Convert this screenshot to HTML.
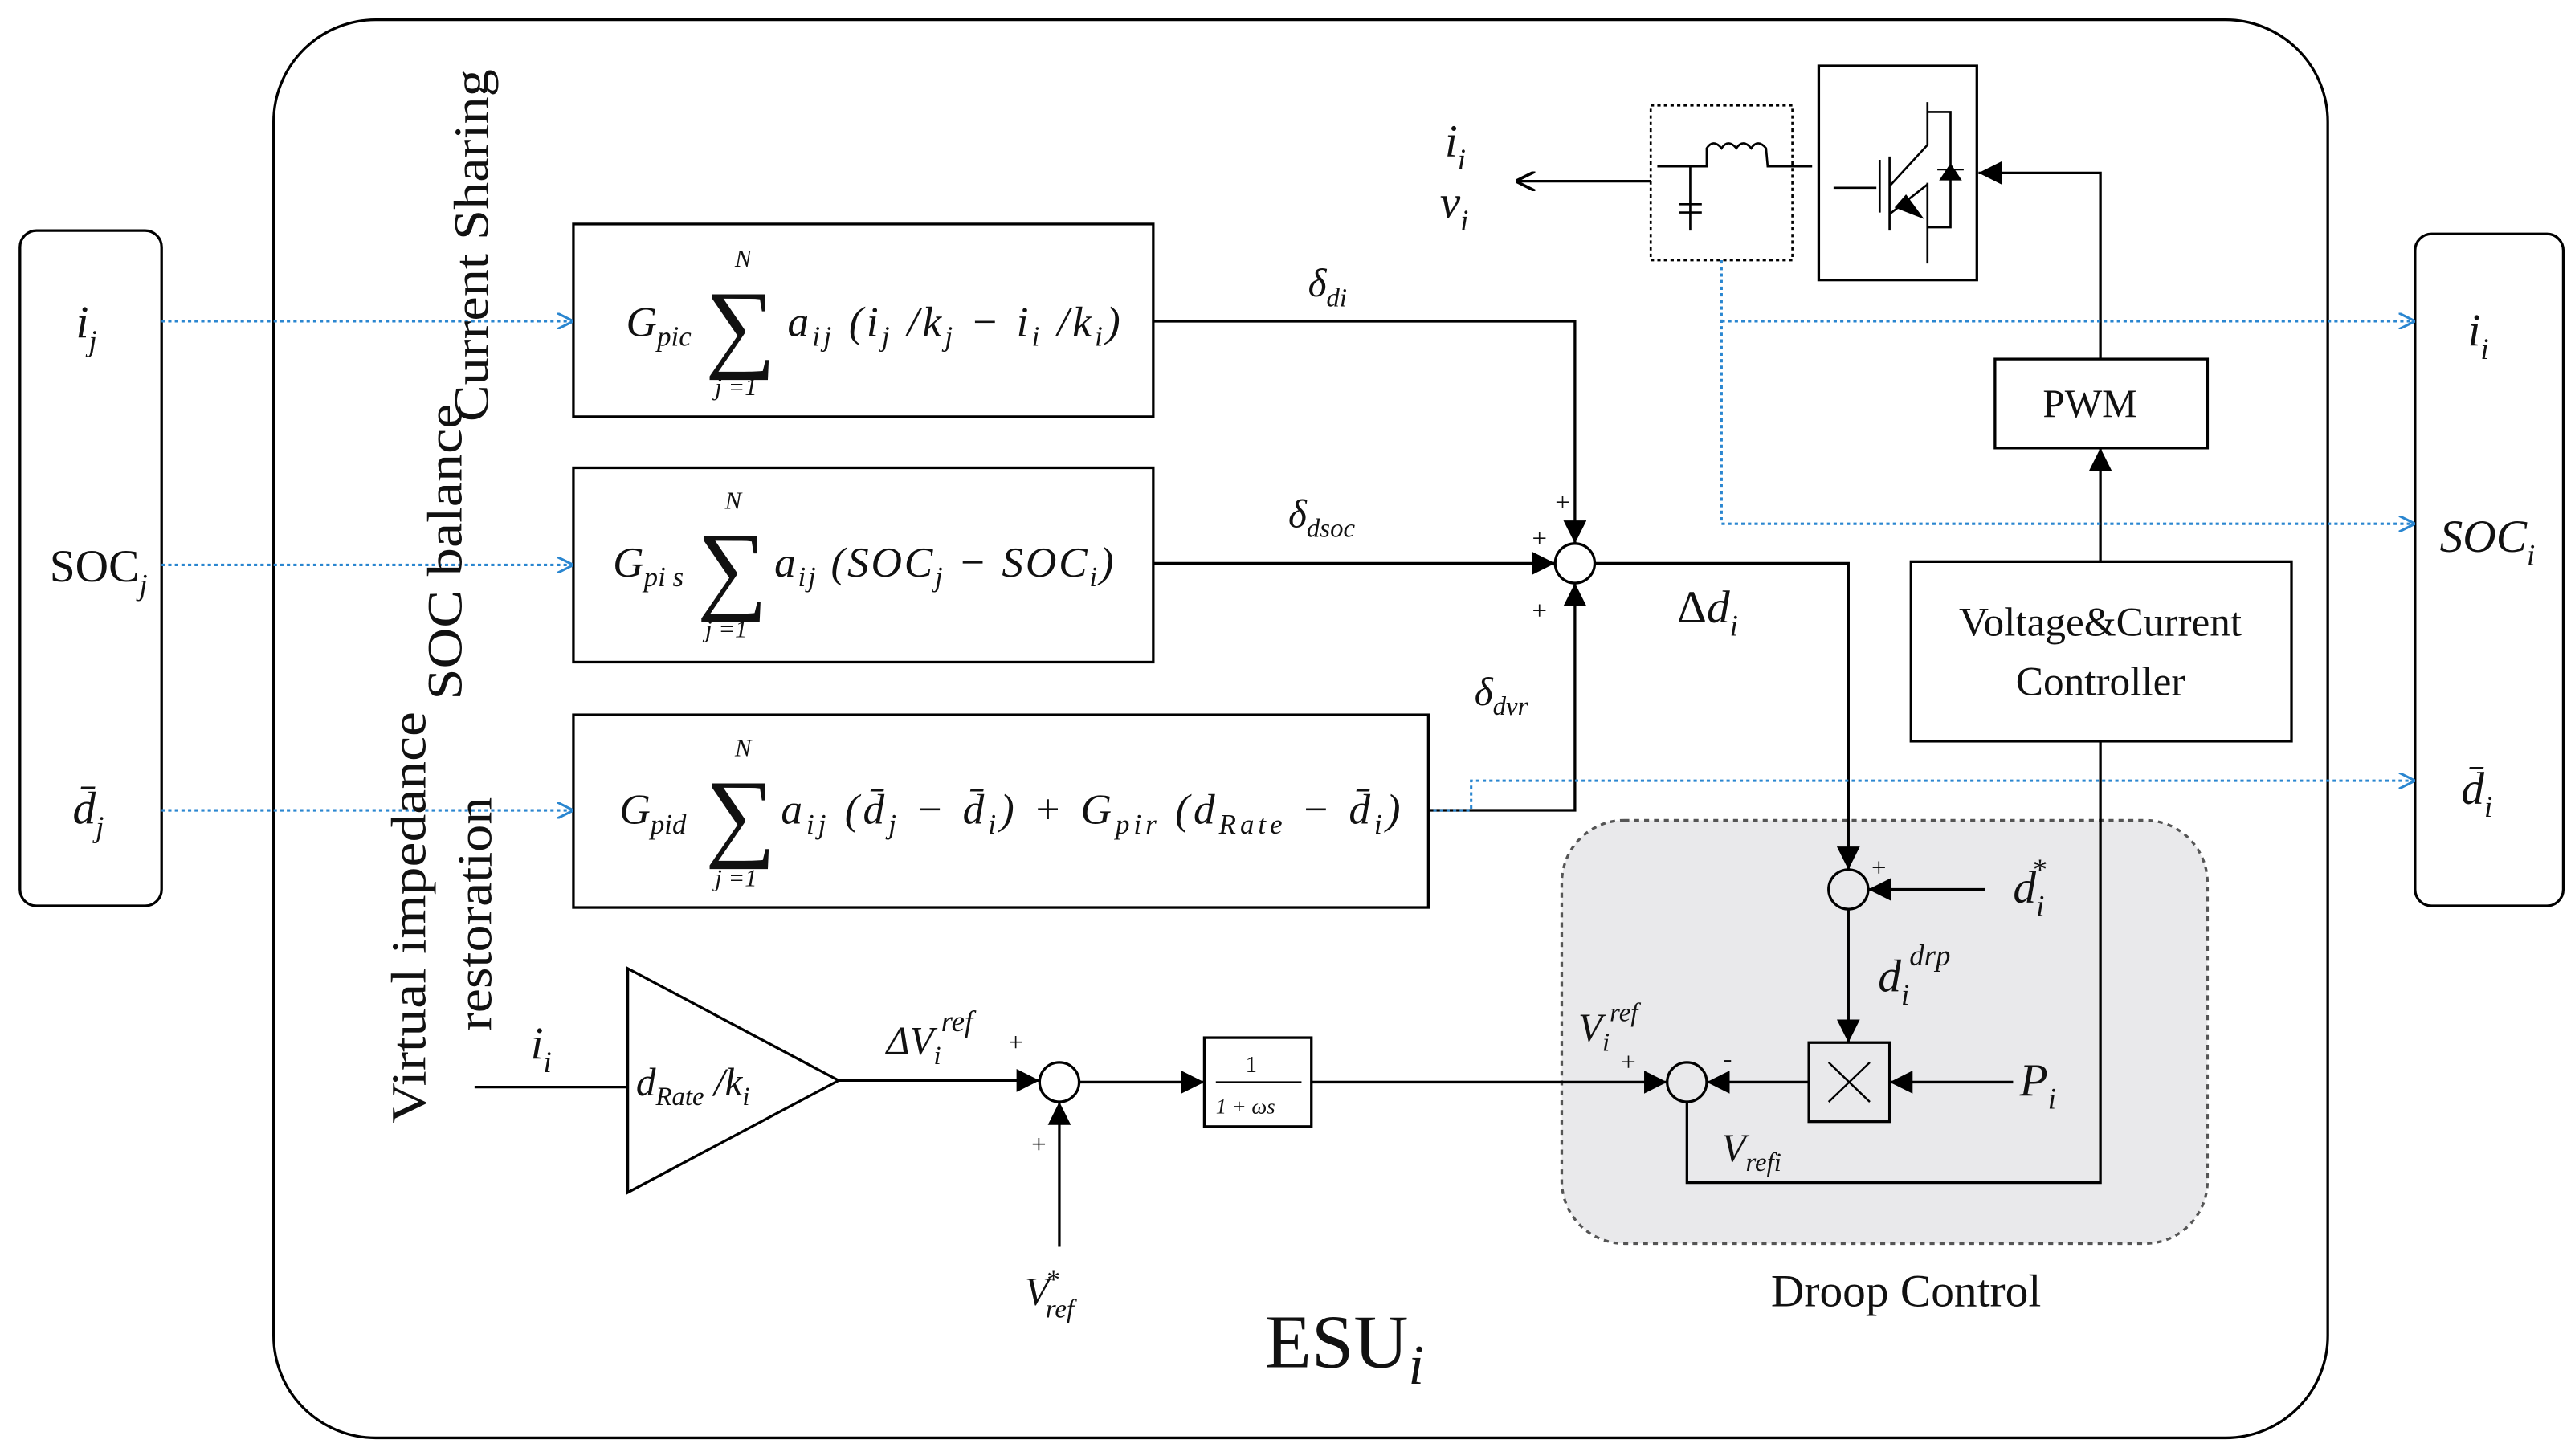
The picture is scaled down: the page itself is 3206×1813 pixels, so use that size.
<!DOCTYPE html>
<html><head><meta charset="utf-8"><style>
html,body{margin:0;padding:0;background:#fff;}
svg{display:block;}
text{font-family:"Liberation Serif",serif;fill:#111;}
.it{font-style:italic;}
</style></head><body>
<svg width="3206" height="1813" viewBox="0 0 1563 884" xmlns="http://www.w3.org/2000/svg">
<defs>
<marker id="a" viewBox="0 0 10 10" refX="10" refY="5" markerWidth="14" markerHeight="14" markerUnits="userSpaceOnUse" orient="auto"><path d="M0,0 L10,5 L0,10 Z" fill="#000"/></marker>
<marker id="o" viewBox="0 0 10 10" refX="10" refY="5" markerWidth="12" markerHeight="12" markerUnits="userSpaceOnUse" orient="auto"><path d="M0,0 L10,5 L0,10" fill="none" stroke="#000" stroke-width="1.5"/></marker>
<marker id="b" viewBox="0 0 10 10" refX="10" refY="5" markerWidth="10" markerHeight="10" markerUnits="userSpaceOnUse" orient="auto"><path d="M0,0 L10,5 L0,10" fill="none" stroke="#2a86d0" stroke-width="1.5"/></marker>
</defs>
<g fill="none" stroke="#000" stroke-width="1.6">
<rect x="166" y="12" width="1247" height="861" rx="62"/>
<rect x="12" y="140" width="86" height="410" rx="10"/>
<rect x="1466" y="142" width="90" height="408" rx="10"/>
<rect x="948" y="498" width="392" height="257" rx="38" fill="#e9e9eb" stroke="#555" stroke-dasharray="3,3"/>
<rect x="348" y="136" width="352" height="117"/>
<rect x="348" y="284" width="352" height="118"/>
<rect x="348" y="434" width="519" height="117"/>
<rect x="1160" y="341" width="231" height="109"/>
<rect x="1211" y="218" width="129" height="54"/>
<rect x="731" y="630" width="65" height="54"/>
<rect x="1098" y="633" width="49" height="48"/>
<path d="M1110,645 L1135,669 M1135,645 L1110,669" stroke-width="1.2"/>
<path d="M381,588 L381,724 L509,656 Z"/>
<circle cx="956" cy="342" r="12"/>
<circle cx="1122" cy="540" r="12"/>
<circle cx="1024" cy="657" r="12"/>
<circle cx="643" cy="657" r="12"/>
<path d="M700,195 L956,195 L956,330" marker-end="url(#a)"/>
<path d="M700,342 L944,342" marker-end="url(#a)"/>
<path d="M867,492 L956,492 L956,354" marker-end="url(#a)"/>
<path d="M968,342 L1122,342 L1122,528" marker-end="url(#a)"/>
<path d="M1205,540 L1134,540" marker-end="url(#a)"/>
<path d="M1122,552 L1122,633" marker-end="url(#a)"/>
<path d="M1222,657 L1147,657" marker-end="url(#a)"/>
<path d="M1098,657 L1036,657" marker-end="url(#a)"/>
<path d="M796,657 L1012,657" marker-end="url(#a)"/>
<path d="M655,657 L731,657" marker-end="url(#a)"/>
<path d="M509,656 L631,656" marker-end="url(#a)"/>
<path d="M643,757 L643,669" marker-end="url(#a)"/>
<path d="M288,660 L381,660"/>
<path d="M1024,669 L1024,718 L1275,718 L1275,450"/>
<path d="M1275,341 L1275,272" marker-end="url(#a)"/>
<path d="M1275,218 L1275,105 L1201,105" marker-end="url(#a)"/>
<path d="M1002,110 L920,110" marker-end="url(#o)"/>
<rect x="1002" y="64" width="86" height="94" stroke-dasharray="2,2" stroke-width="1.3"/>
<path d="M1006,101 L1036,101 L1036,90 q4,-6 9,0 q4,-6 9,0 q4,-6 9,0 q4,-6 9,0 L1073,101 L1100,101" stroke-width="1.3"/>
<path d="M1026,101 L1026,140 M1019,124 L1033,124 M1019,129 L1033,129" stroke-width="1.3"/>
<rect x="1104" y="40" width="96" height="130"/>
<path d="M1113,114 L1139,114 M1141,97 L1141,129 M1147,95 L1147,140 M1147,113 L1170,88 L1170,62 M1170,111 L1170,160 M1170,112 L1147,130 M1170,68 L1184,68 L1184,138 L1170,138" stroke-width="1.3"/>
<path d="M1176,103 L1192,103 M1178,109 L1190,109 L1184,100 Z" fill="#000" stroke-width="1"/>
<path d="M1157,118 L1168,133 L1150,126 Z" fill="#000" stroke="none"/>
</g>
<g fill="none" stroke="#2a86d0" stroke-width="1.5" stroke-dasharray="2,2">
<path d="M98,195 L348,195" marker-end="url(#b)"/>
<path d="M98,343 L348,343" marker-end="url(#b)"/>
<path d="M98,492 L348,492" marker-end="url(#b)"/>
<path d="M1045,158 L1045,318 L1466,318" marker-end="url(#b)"/>
<path d="M1045,195 L1466,195" marker-end="url(#b)"/>
<path d="M870,492 L893,492 L893,474 L1466,474" marker-end="url(#b)"/>
</g>
<g font-size="28">
<text x="46" y="205" class="it">i<tspan font-size="18" dy="8">j</tspan></text>
<text x="30" y="353">SOC<tspan font-size="18" dy="8" class="it">j</tspan></text>
<text x="44" y="500" class="it">d̄<tspan font-size="18" dy="8">j</tspan></text>
<text x="1498" y="210" class="it">i<tspan font-size="18" dy="8">i</tspan></text>
<text x="1481" y="335" class="it">SOC<tspan font-size="18" dy="8">i</tspan></text>
<text x="1494" y="488" class="it">d̄<tspan font-size="18" dy="8">i</tspan></text>
</g>
<g font-size="30">
<text transform="translate(296,256) rotate(-90)" textLength="214" lengthAdjust="spacingAndGlyphs">Current Sharing</text>
<text transform="translate(280,425) rotate(-90)" textLength="180" lengthAdjust="spacingAndGlyphs">SOC balance</text>
<text transform="translate(258,682) rotate(-90)" textLength="250" lengthAdjust="spacingAndGlyphs">Virtual impedance</text>
<text transform="translate(298,626) rotate(-90)" textLength="142" lengthAdjust="spacingAndGlyphs">restoration</text>
</g>
<g font-size="26" class="it">
<text x="380" y="204">G<tspan font-size="17" dy="6">pic</tspan></text>
<text x="428" y="218" font-size="60" font-style="normal">∑</text>
<text x="446" y="162" font-size="15">N</text>
<text x="434" y="240" font-size="15">j =1</text>
<text x="478" y="204" textLength="202" lengthAdjust="spacing">a<tspan font-size="17" dy="6">ij</tspan><tspan dy="-6"> (i</tspan><tspan font-size="17" dy="6">j</tspan><tspan dy="-6"> /k</tspan><tspan font-size="17" dy="6">j</tspan><tspan dy="-6"> − i</tspan><tspan font-size="17" dy="6">i</tspan><tspan dy="-6"> /k</tspan><tspan font-size="17" dy="6">i</tspan><tspan dy="-6">)</tspan></text>
<text x="372" y="350">G<tspan font-size="17" dy="6">pi s</tspan></text>
<text x="423" y="365" font-size="60" font-style="normal">∑</text>
<text x="440" y="309" font-size="15">N</text>
<text x="428" y="387" font-size="15">j =1</text>
<text x="470" y="350" textLength="206" lengthAdjust="spacing">a<tspan font-size="17" dy="6">ij</tspan><tspan dy="-6"> (SOC</tspan><tspan font-size="17" dy="6">j</tspan><tspan dy="-6"> − SOC</tspan><tspan font-size="17" dy="6">i</tspan><tspan dy="-6">)</tspan></text>
<text x="376" y="500">G<tspan font-size="17" dy="6">pid</tspan></text>
<text x="428" y="515" font-size="60" font-style="normal">∑</text>
<text x="446" y="459" font-size="15">N</text>
<text x="434" y="538" font-size="15">j =1</text>
<text x="474" y="500" textLength="376" lengthAdjust="spacing">a<tspan font-size="17" dy="6">ij</tspan><tspan dy="-6"> (d̄</tspan><tspan font-size="17" dy="6">j</tspan><tspan dy="-6"> − d̄</tspan><tspan font-size="17" dy="6">i</tspan><tspan dy="-6">) + G</tspan><tspan font-size="17" dy="6">pir</tspan><tspan dy="-6"> (d</tspan><tspan font-size="17" dy="6">Rate</tspan><tspan dy="-6">  − d̄</tspan><tspan font-size="17" dy="6">i</tspan><tspan dy="-6">)</tspan></text>
</g>
<g font-size="24" class="it">
<text x="794" y="180">δ<tspan font-size="16" dy="6">di</tspan></text>
<text x="782" y="320">δ<tspan font-size="16" dy="6">dsoc</tspan></text>
<text x="895" y="428">δ<tspan font-size="16" dy="6">dvr</tspan></text>
<text x="1018" y="378" font-size="28" font-style="normal">Δ<tspan class="it">d</tspan><tspan font-size="18" dy="8" class="it">i</tspan></text>
<text x="1222" y="548" font-size="28">d<tspan font-size="18" dy="8">i</tspan><tspan font-size="18" dx="-8" dy="-22">*</tspan></text>
<text x="1140" y="602" font-size="28">d<tspan font-size="18" dy="8">i</tspan><tspan font-size="18" dy="-24">drp</tspan></text>
<text x="1226" y="665" font-size="28">P<tspan font-size="18" dy="8">i</tspan></text>
<text x="1045" y="705">V<tspan font-size="16" dy="6">refi</tspan></text>
<text x="958" y="632">V<tspan font-size="16" dy="6">i</tspan><tspan font-size="16" dy="-18">ref</tspan></text>
<text x="538" y="640">ΔV<tspan font-size="16" dy="6">i</tspan><tspan font-size="18" dy="-20">ref</tspan></text>
<text x="386" y="665">d<tspan font-size="16" dy="6">Rate</tspan><tspan dy="-6"> /k</tspan><tspan font-size="16" dy="6">i</tspan></text>
<text x="322" y="643" font-size="28">i<tspan font-size="18" dy="8">i</tspan></text>
<text x="622" y="792">V<tspan font-size="16" dx="-2" dy="-10">*</tspan><tspan font-size="16" dx="-8" dy="18">ref</tspan></text>
<text x="877" y="95" font-size="28">i<tspan font-size="18" dy="8">i</tspan></text>
<text x="874" y="132" font-size="28">v<tspan font-size="18" dy="8">i</tspan></text>
</g>
<g font-size="16">
<text x="944" y="310">+</text><text x="930" y="332">+</text><text x="930" y="376">+</text>
<text x="1136" y="532">+</text><text x="612" y="638">+</text><text x="626" y="700">+</text>
<text x="984" y="650">+</text><text x="1046" y="648">-</text>
</g>
<text x="756" y="651" font-size="14">1</text>
<line x1="738" y1="657" x2="790" y2="657" stroke="#000" stroke-width="1"/>
<text x="738" y="676" font-size="13" class="it">1 + ωs</text>
<text x="1240" y="253" font-size="24">PWM</text>
<text x="1275" y="386" font-size="25" text-anchor="middle">Voltage&amp;Current</text>
<text x="1275" y="422" font-size="25" text-anchor="middle">Controller</text>
<text x="1157" y="793" font-size="28" text-anchor="middle">Droop Control</text>
<text x="768" y="830" font-size="46">ESU<tspan class="it" font-size="34" dy="10">i</tspan></text>
</svg>
</body></html>
